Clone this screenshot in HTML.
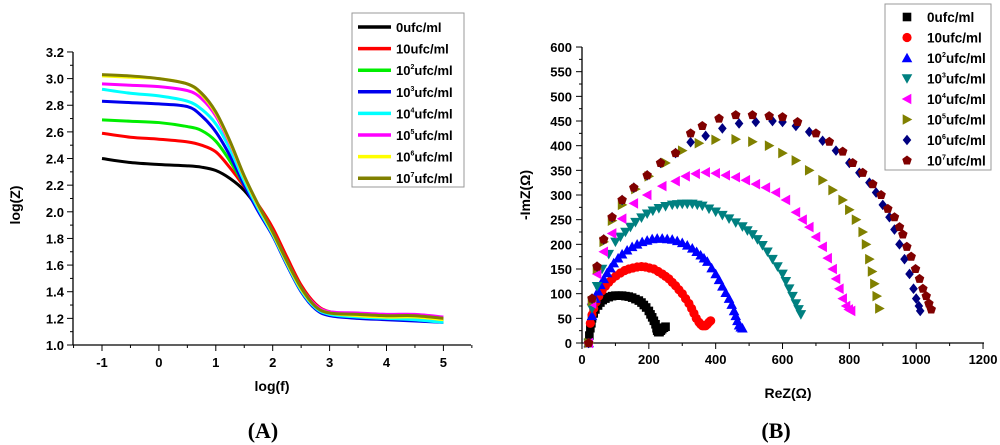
<!DOCTYPE html>
<html><head><meta charset="utf-8"><style>
body{margin:0;background:#fff;width:1000px;height:445px;overflow:hidden}
svg{display:block}
text{font-family:"Liberation Sans",sans-serif;font-weight:bold}
</style></head><body>
<svg id="s" width="1000" height="445" xmlns="http://www.w3.org/2000/svg"></svg>
<script>
// ---- Chart A data ----
const aLogF=[-1,-0.5,0,0.5,0.75,1,1.25,1.5,1.75,2,2.25,2.5,2.75,3,3.5,4,4.5,5];
const aNames=["0ufc/ml","10ufc/ml","10^2ufc/ml","10^3ufc/ml","10^4ufc/ml","10^5ufc/ml","10^6ufc/ml","10^7ufc/ml"];
const aColors=["#000000","#ff0000","#00ee00","#0000ee","#00ffff","#ff00ff","#ffff00","#808000"];
const a0=[2.40,2.37,2.355,2.345,2.335,2.31,2.25,2.16,2.02,1.84,1.62,1.42,1.29,1.24,1.21,1.20,1.20,1.19];
const a1=[2.59,2.56,2.545,2.525,2.50,2.45,2.33,2.19,2.05,1.88,1.66,1.45,1.31,1.25,1.23,1.22,1.22,1.19];
const a2=[2.69,2.68,2.67,2.64,2.61,2.53,2.38,2.20,2.03,1.85,1.63,1.42,1.29,1.24,1.22,1.21,1.21,1.18];
const a3=[2.83,2.82,2.81,2.79,2.72,2.60,2.42,2.20,2.00,1.82,1.60,1.40,1.27,1.22,1.20,1.19,1.18,1.17];
const a4=[2.92,2.89,2.87,2.83,2.77,2.66,2.47,2.23,2.02,1.83,1.61,1.41,1.28,1.23,1.21,1.20,1.19,1.17];
const a5=[2.96,2.95,2.94,2.91,2.85,2.72,2.51,2.26,2.04,1.85,1.63,1.43,1.30,1.25,1.24,1.23,1.23,1.21];
const a6=[3.02,3.01,3.00,2.96,2.88,2.74,2.52,2.26,2.04,1.84,1.62,1.42,1.29,1.24,1.22,1.21,1.21,1.19];
const a7=[3.03,3.02,3.00,2.96,2.89,2.75,2.53,2.27,2.05,1.85,1.63,1.43,1.29,1.24,1.23,1.22,1.22,1.20];
const aSeries=[a0,a1,a2,a3,a4,a5,a6,a7];
const aXTicks=[-1,0,1,2,3,4,5];
const aYTicks=[1.0,1.2,1.4,1.6,1.8,2.0,2.2,2.4,2.6,2.8,3.0,3.2];
// ---- Chart B data ----
const bColors=["#000000","#ff0000","#0000ff","#008080","#ff00ff","#808000","#000080","#800000"];
const bShapes=["square","circle","up","down","left","right","diamond","pent"];
const b0re=[20,22,25,28,30,35,40,48,55,62,70,80,90,100,110,120,130,140,150,160,170,178,185,192,200,205,210,215,220,223,225,228,232,236,240,245,250];
const b0im=[0,15,30,40,50,60,68,76,82,87,90,93,95,96,96,96,95,94,92,89,86,82,77,72,65,58,52,45,38,30,25,22,22,25,28,31,33];
const b1re=[20,25,30,35,42,50,60,70,80,90,102,115,128,140,152,165,178,190,202,215,228,240,250,260,270,280,290,300,310,320,328,335,342,350,355,360,365,370,375,380,385];
const b1im=[0,40,57,70,83,95,106,115,123,130,136,142,147,150,152,154,155,154,152,150,145,140,135,130,123,116,108,100,90,80,70,60,50,42,38,35,35,35,38,42,45];
const b2re=[20,30,40,48,55,65,75,85,95,108,120,135,150,165,180,195,210,225,240,255,270,285,300,315,330,343,355,365,375,388,400,410,420,430,440,448,455,460,465,470,475,480];
const b2im=[0,55,90,105,118,130,142,152,162,172,180,188,195,200,205,208,211,212,212,211,210,207,203,198,192,185,178,172,165,152,140,128,115,102,90,78,65,55,45,36,32,30];
const b3re=[20,30,45,60,80,100,115,130,145,160,178,195,212,230,250,270,285,300,315,330,345,360,380,400,420,440,460,480,495,510,525,540,555,570,585,600,610,620,630,640,648,655];
const b3im=[0,70,115,150,180,205,215,225,235,245,254,262,268,273,277,280,281,282,282,282,280,278,272,266,259,252,244,236,228,220,210,198,185,170,155,140,125,110,95,80,68,58];
const b4re=[20,30,45,65,90,120,155,195,240,280,310,340,370,400,430,460,490,520,550,580,610,640,660,680,700,720,735,750,760,770,780,790,798,805];
const b4im=[0,80,140,185,222,252,283,300,318,328,338,343,346,344,340,336,330,322,315,305,290,265,250,235,215,195,172,150,130,110,90,75,68,65];
const b5re=[20,30,45,65,90,120,160,200,250,300,350,400,460,510,560,600,640,680,720,750,780,800,820,840,850,860,868,875,882,890];
const b5im=[0,85,150,205,248,280,312,338,365,390,405,412,413,408,400,385,370,350,330,310,290,270,250,225,200,170,145,120,95,70];
const b6re=[20,30,45,65,90,120,155,195,235,280,325,370,420,470,520,570,600,640,680,720,760,800,830,860,880,900,920,935,950,965,980,992,1000,1008,1012];
const b6im=[0,90,155,210,255,290,315,340,365,385,407,420,435,445,448,450,448,440,428,410,390,365,345,325,305,280,255,230,200,170,140,110,90,75,65];
const b7re=[20,30,45,65,90,120,155,195,235,280,325,360,410,460,510,560,600,645,700,740,780,810,840,870,895,915,935,950,960,972,985,998,1010,1020,1030,1038,1045];
const b7im=[0,90,155,210,255,290,315,340,365,385,425,440,455,462,462,460,458,448,425,408,388,365,345,322,300,272,255,235,220,195,175,150,130,110,95,80,68];
const bRe=[b0re,b1re,b2re,b3re,b4re,b5re,b6re,b7re];
const bIm=[b0im,b1im,b2im,b3im,b4im,b5im,b6im,b7im];
const bXTicks=[0,200,400,600,800,1000,1200];
const bYTicks=[0,50,100,150,200,250,300,350,400,450,500,550,600];

const NS="http://www.w3.org/2000/svg";
const svg=document.getElementById('s');
function el(tag,attrs,parent){const e=document.createElementNS(NS,tag);for(const k in attrs)e.setAttribute(k,attrs[k]);(parent||svg).appendChild(e);return e;}
function label(parent,x,y,name,size,anchor){
  const t=el('text',{x:x,y:y,'font-size':size,'text-anchor':anchor||'start'},parent);
  const m=name.match(/^10\^(\d)(.*)$/);
  if(m){const s1=el('tspan',{},t);s1.textContent='10';const s2=el('tspan',{dy:-6,'font-size':7},t);s2.textContent=m[1];const s3=el('tspan',{dy:6},t);s3.textContent=m[2];}
  else t.textContent=name;
  return t;
}
// ---- Chart A axes ----
const ax=v=>102+(v+1)*56.9, ay=v=>345-(v-1)*133.2;
const gA=el('g',{});
el('line',{x1:73,y1:52,x2:73,y2:345,stroke:'#000','stroke-width':1.3},gA);
el('line',{x1:73,y1:345,x2:471,y2:345,stroke:'#000','stroke-width':1.3},gA);
aYTicks.forEach((v,i)=>{const y=ay(v);el('line',{x1:67,y1:y,x2:73,y2:y,stroke:'#000'},gA);
 if(i<aYTicks.length-1){const y2=ay(v+0.1);el('line',{x1:70,y1:y2,x2:73,y2:y2,stroke:'#000'},gA);}
 const t=el('text',{x:64,y:y+5,'font-size':13,'text-anchor':'end'},gA);t.textContent=v.toFixed(1);});
for(let v=-1.5;v<=5.5001;v+=0.5){const x=ax(v);const maj=Math.abs(v-Math.round(v))<1e-6;el('line',{x1:x,y1:345,x2:x,y2:maj?351:348,stroke:'#000'},gA);}
aXTicks.forEach(v=>{const t=el('text',{x:ax(v),y:367,'font-size':13,'text-anchor':'middle'},gA);t.textContent=v;});
const ytA=el('text',{x:0,y:0,'font-size':14,'text-anchor':'middle',transform:'translate(20,205) rotate(-90)'},gA);ytA.textContent='log(Z)';

const xtA=el('text',{x:272,y:391,'font-size':14,'text-anchor':'middle'},gA);xtA.textContent='log(f)';

function smooth(pts){let d='M'+pts[0][0]+','+pts[0][1];for(let i=0;i<pts.length-1;i++){const p0=pts[Math.max(0,i-1)],p1=pts[i],p2=pts[i+1],p3=pts[Math.min(pts.length-1,i+2)];
 d+=' C'+(p1[0]+(p2[0]-p0[0])/6)+','+(p1[1]+(p2[1]-p0[1])/6)+' '+(p2[0]-(p3[0]-p1[0])/6)+','+(p2[1]-(p3[1]-p1[1])/6)+' '+p2[0]+','+p2[1];}return d;}
aSeries.forEach((s,i)=>{const pts=s.map((v,j)=>[ax(aLogF[j]),ay(v)]);
 const p=el('path',{d:smooth(pts),fill:'none',stroke:aColors[i],'stroke-width':3},gA);
 
 });
// legend A
const lgA=el('g',{},gA);
el('rect',{x:352,y:13,width:112,height:174,fill:'#fff',stroke:'#999','stroke-width':1},lgA);
aNames.forEach((n,i)=>{const y=27+i*21.6;el('line',{x1:358,y1:y,x2:391,y2:y,stroke:aColors[i],'stroke-width':3.5},lgA);
 const t=label(lgA,396,y+5,n,13);});
const capA=el('text',{x:263,y:438,'font-size':22,'text-anchor':'middle',style:'font-family:"Liberation Serif",serif'});capA.textContent='(A)';


// ---- Chart B ----
const bx=v=>582+v*0.3342, by=v=>343-v*0.4933;
const gB=el('g',{});
el('line',{x1:582,y1:47,x2:582,y2:343,stroke:'#000','stroke-width':1.3},gB);
el('line',{x1:582,y1:343,x2:984,y2:343,stroke:'#000','stroke-width':1.3},gB);
bYTicks.forEach((v,i)=>{const y=by(v);el('line',{x1:576,y1:y,x2:582,y2:y,stroke:'#000'},gB);
 if(i<bYTicks.length-1){const y2=by(v+25);el('line',{x1:579,y1:y2,x2:582,y2:y2,stroke:'#000'},gB);}
 const t=el('text',{x:572,y:y+5,'font-size':13,'text-anchor':'end'},gB);t.textContent=v;});
bXTicks.forEach((v,i)=>{const x=bx(v);el('line',{x1:x,y1:343,x2:x,y2:349,stroke:'#000'},gB);
 if(i<bXTicks.length-1){const x2=bx(v+100);el('line',{x1:x2,y1:343,x2:x2,y2:346,stroke:'#000'},gB);}
 const t=el('text',{x:x,y:364,'font-size':13,'text-anchor':'middle'},gB);t.textContent=v;});
const ytB=el('text',{x:0,y:0,'font-size':14,'text-anchor':'middle',transform:'translate(530,195) rotate(-90)'},gB);ytB.textContent='-ImZ(Ω)';

const xtB=el('text',{x:788,y:398,'font-size':14,'text-anchor':'middle'},gB);xtB.textContent='ReZ(Ω)';

function marker(parent,shape,x,y,c){const r=4.3;let e;
 if(shape==='square')e=el('rect',{x:x-r,y:y-r,width:2*r,height:2*r,fill:c},parent);
 else if(shape==='circle')e=el('circle',{cx:x,cy:y,r:r+0.3,fill:c},parent);
 else{let pts;
  if(shape==='up')pts=[[0,-r-1],[r+1,r],[-r-1,r]];
  else if(shape==='down')pts=[[0,r+1],[r+1,-r],[-r-1,-r]];
  else if(shape==='left')pts=[[-r-1,0],[r,-r-1],[r,r+1]];
  else if(shape==='right')pts=[[r+1,0],[-r,-r-1],[-r,r+1]];
  else if(shape==='diamond')pts=[[0,-r-1],[r,0],[0,r+1],[-r,0]];
  else{pts=[];for(let k=0;k<5;k++){const a=-Math.PI/2+k*2*Math.PI/5;pts.push([Math.cos(a)*(r+0.7),Math.sin(a)*(r+0.7)]);}}
  e=el('polygon',{points:pts.map(p=>(x+p[0])+','+(y+p[1])).join(' '),fill:c},parent);}
 return e;}
bRe.forEach((re,i)=>{const g=el('g',{},gB);
 re.forEach((v,j)=>{const m=marker(g,bShapes[i],bx(v),by(bIm[i][j]),bColors[i]);
  
  });});
const lgB=el('g',{},gB);
el('rect',{x:885,y:4,width:106,height:166,fill:'#fff',stroke:'#999','stroke-width':1},lgB);
aNames.forEach((n,i)=>{const y=17+i*20.5;marker(lgB,bShapes[i],907,y,bColors[i]);
 const t=label(lgB,927,y+5,n,13.5);});
const capB=el('text',{x:776,y:438,'font-size':22,'text-anchor':'middle',style:'font-family:"Liberation Serif",serif'});capB.textContent='(B)';

</script>
</body></html>
